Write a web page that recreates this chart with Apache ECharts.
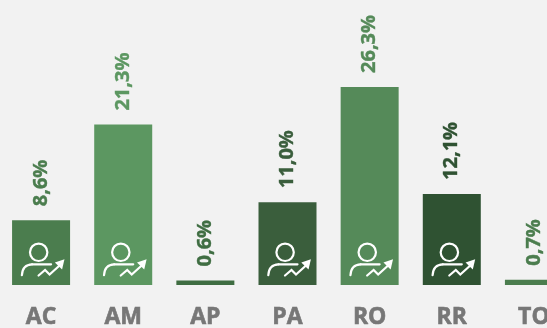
<!DOCTYPE html>
<html><head><meta charset="utf-8">
<script src="https://cdn.jsdelivr.net/npm/echarts@6/dist/echarts.min.js"></script>
<style>html,body{margin:0;padding:0;background:#f2f2f2;overflow:hidden}#c{width:547px;height:328px}</style>
</head><body><div id="c"></div>
<script>
const categories = ['AC','AM','AP','PA','RO','RR','TO'];
const values = [8.6,21.3,0.6,11.0,26.3,12.1,0.7];
const barColors = ['#4b7d4e','#5c9761','#3f6d42','#3a5e3c','#558a59','#2f5232','#4b7d4e'];
const iconCategories = ['AC','AM','PA','RO','RR'];
const font = '"Open Sans", sans-serif';

function renderIcon(params, api) {
  const p = api.coord([api.value(0), 0]);
  const s = {stroke:'#fff', fill:'none', lineWidth:2.2, lineCap:'round', lineJoin:'miter'};
  return {type:'group', x:p[0]-41, y:p[1]-285, silent:true, children:[
    {type:'circle', shape:{cx:38.6,cy:252.3,r:8.7}, style:s},
    {type:'bezierCurve', shape:{x1:21.8,y1:275.2,cpx1:22.2,cpy1:268,cpx2:26,cpy2:264.5,x2:32,y2:264.3}, style:s},
    {type:'line', shape:{x1:32,y1:264.3,x2:51,y2:264.3}, style:s},
    {type:'polyline', shape:{points:[[38.5,275.5],[45,270],[49.5,274.5],[59.5,265.5]]}, style:s},
    {type:'polygon', shape:{points:[[64.4,259.3],[54.8,262.6],[62,269.6]]}, style:{fill:'#fff'}}
  ]};
}

echarts.init(document.getElementById('c'), null, {renderer:'canvas'}).setOption({
  backgroundColor:'#f2f2f2',
  animation:false,
  grid:{left:0, top:0, width:575, height:285, outerBoundsMode:'none'},
  xAxis:{type:'category', data:categories, axisLine:{show:false}, axisTick:{show:false},
    axisLabel:{color:'#777777', fontFamily:font, fontWeight:'bold', fontSize:23, margin:21, interval:0, hideOverlap:false,
      textBorderColor:'#777777', textBorderWidth:0.6}},
  yAxis:{type:'value', min:0, max:37.85, show:false},
  series:[
    {type:'bar', barWidth:58, data:values.map((v,i)=>({value:v, itemStyle:{color:barColors[i]},
      label:{color:barColors[i], textBorderColor:barColors[i], textBorderWidth:0.4}})),
     label:{show:true, position:'top', rotate:90, distance:14, fontFamily:font, fontWeight:'bold', fontSize:20,
       align:'left', verticalAlign:'middle',
       formatter:p=>p.value.toFixed(1).replace('.',',')+'%'}},
    {type:'custom', coordinateSystem:'cartesian2d', renderItem:renderIcon, clip:false, z:5,
     encode:{x:0}, data:iconCategories.map(c=>[c])}
  ]
});
</script></body></html>
